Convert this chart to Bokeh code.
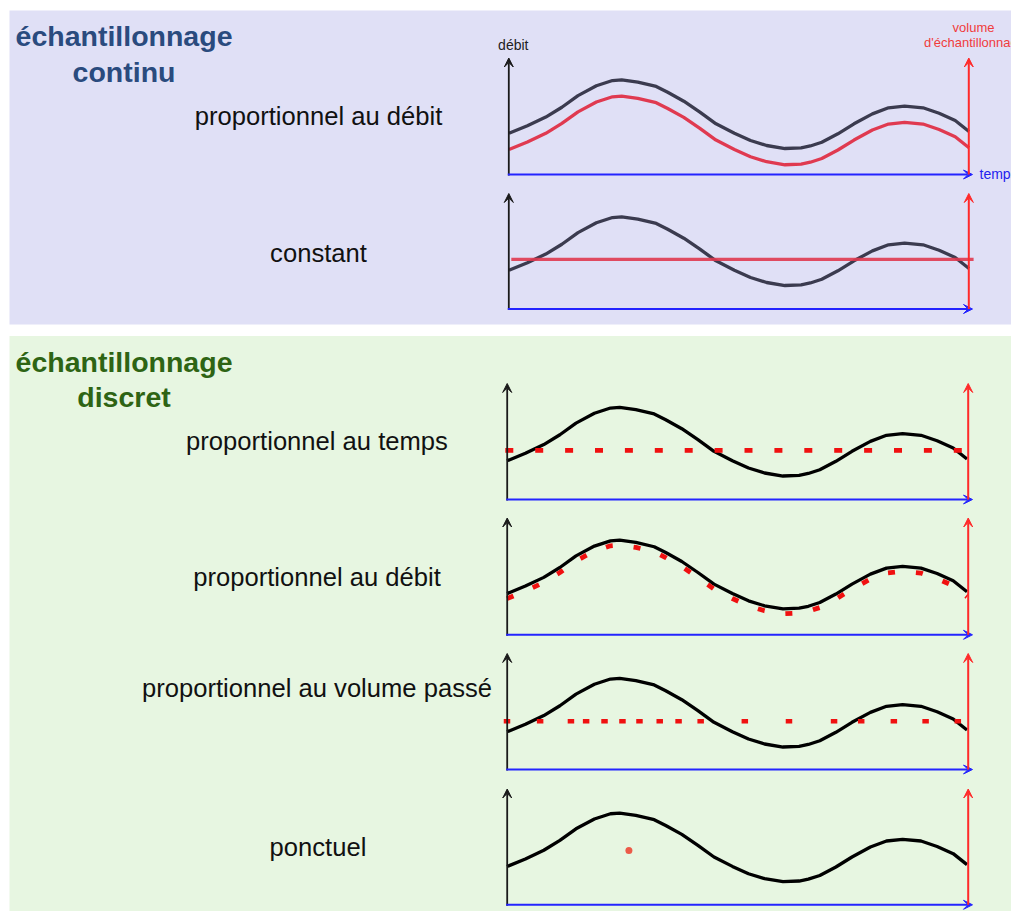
from bokeh.plotting import figure
from bokeh.models import Range1d, Arrow, VeeHead, Label
from bokeh.embed import file_html
from bokeh.resources import INLINE

# ---------------- data (time 0..100, flow/volume in % of axis height) ----------------
temps = [0, 4, 8, 11.5, 15, 19, 22.5, 24.5, 28, 32, 34.5, 38, 41.5, 45, 49, 52.5, 56, 60,
         63.5, 65.5, 68, 71.5, 75, 79, 82.5, 86, 90, 93.5, 97, 100]
debit = [35.5, 42, 49.5, 58, 68, 76.5, 81, 81.6, 79.6, 75.9, 70.9, 63.2, 53.7, 43.7, 35.6, 29.3,
         25, 22.4, 23, 24.6, 27.8, 35.1, 43.7, 52.3, 57.5, 58.9, 57.5, 52.8, 46.6, 37.1]
# continu, proportionnel au débit
volume_continu_prop = [21.5, 28, 35.5, 44, 54, 62.5, 67, 67.6, 65.6, 61.9, 56.9, 49.2, 39.7, 29.7,
                       21.6, 15.3, 11, 8.4, 9, 10.6, 13.8, 21.1, 29.7, 38.3, 43.5, 44.9, 43.5,
                       38.8, 32.6, 23.1]
# continu, constant
volume_constant_t = [0.5, 101]
volume_constant = [45, 45]
# discret, proportionnel au temps
prelev_temps_t = [0.5, 7, 13.5, 20, 26.5, 33, 39.5, 46, 52.5, 59, 65.5, 72, 78.5, 85, 91.5, 98]
prelev_temps_v = [44.5] * 16
# discret, proportionnel au débit
prelev_debit = [31.2, 37.7, 45.2, 53.7, 63.7, 72.2, 76.7, 77.3, 75.3, 71.6, 66.6, 58.9, 49.4,
                39.4, 31.3, 25.0, 20.7, 18.1, 18.7, 20.3, 23.5, 30.8, 39.4, 48.0, 53.2, 54.6,
                53.2, 48.5, 42.3, 32.8]
# discret, proportionnel au volume passé
prelev_volume_t = [0, 7.2, 13.9, 17.2, 21.2, 25.1, 28.8, 33.2, 37.3, 42.1, 51.7, 61.3, 71.1,
                   77.0, 84.1, 91.0, 98.0]
prelev_volume_v = [44.6] * 17
# ponctuel
ponctuel_t = [26.5]
ponctuel_v = [49.3]

# ---------------- layout (reference pixel geometry) ----------------
W, H = 1011, 911
X0, X1 = 0, 1011
YTOP, YBOT = 0, 911
KY = 1.16                 # px per flow unit

panels = {
    "c1": dict(x0=508.5, x1=968.5, xr=968.3, xa=508.3, yz=174.0, ya=174.0, ytip=57.5),
    "c2": dict(x0=508.5, x1=968.5, xr=968.3, xa=508.3, yz=311.0, ya=308.5, ytip=193.0),
    "c3": dict(x0=506.5, x1=966.5, xr=967.7, xa=506.7, yz=501.5, ya=499.0, ytip=383.0),
    "c4": dict(x0=506.5, x1=966.5, xr=967.7, xa=506.7, yz=634.3, ya=634.3, ytip=517.5),
    "c5": dict(x0=506.5, x1=966.5, xr=967.7, xa=506.7, yz=772.5, ya=769.0, ytip=653.0),
    "c6": dict(x0=506.5, x1=966.5, xr=967.7, xa=506.7, yz=907.2, ya=904.3, ytip=788.5),
}

p = figure(width=W, height=H, x_range=Range1d(X0, X1), y_range=Range1d(YBOT, YTOP),
           output_backend="svg", toolbar_location=None, min_border=0)
p.axis.visible = False
p.grid.visible = False
p.outline_line_color = None
p.background_fill_color = "white"
p.border_fill_color = "white"

xr, yr = {}, {}
for name, g in panels.items():
    kx = (g["x1"] - g["x0"]) / 100.0
    xr[name] = Range1d((X0 - g["x0"]) / kx, (X1 - g["x0"]) / kx)
    yr[name] = Range1d((g["yz"] - YBOT) / KY, (g["yz"] - YTOP) / KY)
p.extra_x_ranges = xr
p.extra_y_ranges = yr

BLUE_BG = "#e0e0f6"
GREEN_BG = "#e7f6e1"
p.quad(left=[9], right=[X1 + 10], top=[10], bottom=[324], fill_color=BLUE_BG, line_color=None)
p.quad(left=[9], right=[X1 + 10], top=[335.5], bottom=[YBOT + 5], fill_color=GREEN_BG, line_color=None)

FONT = "Liberation Sans"

def lab(x, y, text, size, color, bold=False, align="center"):
    # y is the visual baseline in page pixels; compensate renderer offset
    y_adj = y - 0.34 * size
    p.add_layout(Label(x=x, y=y_adj, text=text, text_font=FONT, text_font_size=f"{size}px",
                       text_color=color, text_font_style="bold" if bold else "normal",
                       text_align=align, text_baseline="alphabetic"))

# titles
lab(123.5, 45, "échantillonnage", 28.5, "#2a4b7e", True)
lab(123.5, 81, "continu", 28.5, "#2a4b7e", True)
lab(123.5, 371.5, "échantillonnage", 28.5, "#2e6414", True)
lab(123.5, 406, "discret", 28.5, "#2e6414", True)
# row labels
lab(318, 124, "proportionnel au débit", 25.6, "#111111")
lab(318, 261, "constant", 25.6, "#111111")
lab(316.5, 449, "proportionnel au temps", 25.6, "#111111")
lab(316.5, 585, "proportionnel au débit", 25.6, "#111111")
lab(316.5, 696, "proportionnel au volume passé", 25.6, "#111111")
lab(317.5, 855, "ponctuel", 25.6, "#111111")
# axis names
lab(512.8, 49.5, "débit", 14, "#222222")
lab(973, 31.7, "volume", 13, "#f03c3c")
lab(974, 46.7, "d'échantillonnage", 13, "#f03c3c")
lab(979, 178, "temps", 14, "#2323ee", align="left")

DARK = "#3b3b4f"
CRIMSON = "#e03a50"
RED = "#f01010"

def kw(name):
    return dict(x_range_name=name, y_range_name=name)

# continu: proportionnel au débit
p.line(temps, debit, line_color=DARK, line_width=3.3, **kw("c1"))
p.line(temps, volume_continu_prop, line_color=CRIMSON, line_width=3.3, **kw("c1"))
# continu: constant
p.line(temps, debit, line_color=DARK, line_width=3.3, **kw("c2"))
p.line(volume_constant_t, volume_constant, line_color=CRIMSON, line_alpha=0.9, line_width=3.3, **kw("c2"))
# discret: proportionnel au temps
p.line(temps, debit, line_color="black", line_width=3.3, **kw("c3"))
p.rect(x=prelev_temps_t, y=prelev_temps_v, width=8, height=4.8, width_units="screen",
       height_units="screen", fill_color=RED, line_color=None, **kw("c3"))
# discret: proportionnel au débit
p.line(temps, debit, line_color="black", line_width=3.3, **kw("c4"))
p.line(temps, prelev_debit, line_color=RED, line_width=4.8, line_dash="7 21",
       line_dash_offset=0, **kw("c4"))
# discret: proportionnel au volume passé
p.line(temps, debit, line_color="black", line_width=3.3, **kw("c5"))
p.rect(x=prelev_volume_t, y=prelev_volume_v, width=6.5, height=4.5, width_units="screen",
       height_units="screen", fill_color=RED, line_color=None, **kw("c5"))
# ponctuel
p.line(temps, debit, line_color="black", line_width=3.3, **kw("c6"))
p.scatter(ponctuel_t, ponctuel_v, size=7, fill_color="#ec5a48", line_color=None, **kw("c6"))

# axes arrows
for name, g in panels.items():
    p.add_layout(Arrow(x_start=g["xa"], y_start=g["ya"] + 1, x_end=g["xa"], y_end=g["ytip"],
                       line_color="#1a1a1a", line_width=1.8,
                       end=VeeHead(size=9, fill_color="#1a1a1a", line_color="#1a1a1a", line_width=1)))
    p.add_layout(Arrow(x_start=g["xa"] - 1, y_start=g["ya"], x_end=972, y_end=g["ya"],
                       line_color="#2424ff", line_width=2,
                       end=VeeHead(size=9, fill_color="#2424ff", line_color="#2424ff", line_width=1)))
    p.add_layout(Arrow(x_start=g["xr"], y_start=g["ya"], x_end=g["xr"], y_end=g["ytip"],
                       line_color="#ff2a2a", line_width=2,
                       end=VeeHead(size=9, fill_color="#ff2a2a", line_color="#ff2a2a", line_width=1)))

open("out.html", "w").write(file_html(p, INLINE))
